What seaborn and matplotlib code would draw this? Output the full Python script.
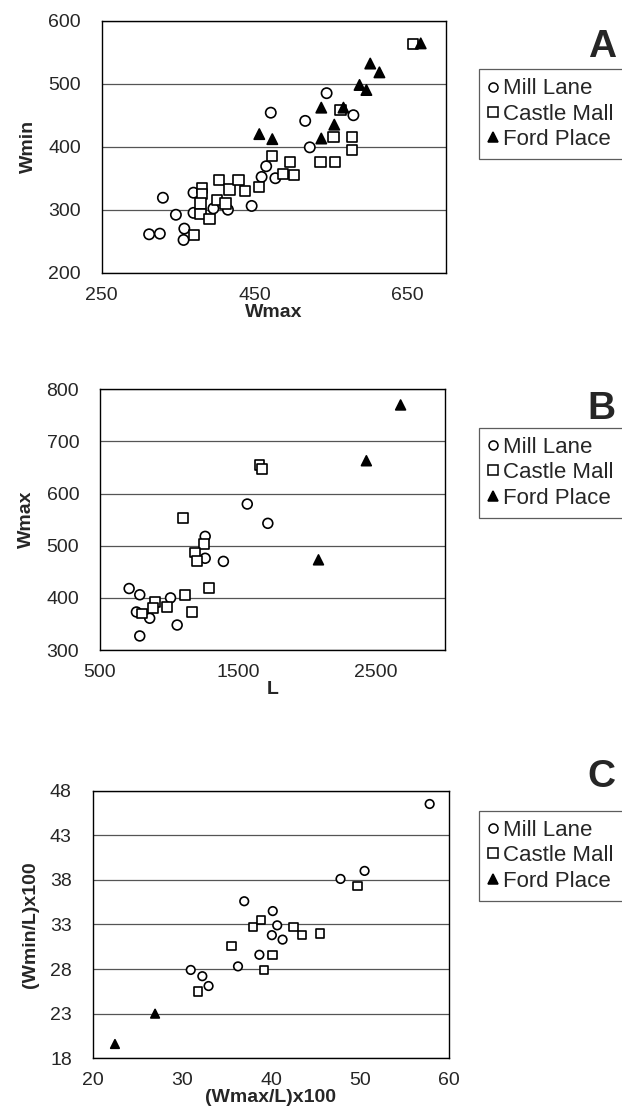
import matplotlib
matplotlib.use("Agg")
import matplotlib.pyplot as plt
from matplotlib.lines import Line2D
import pandas as pd
import seaborn as sns

sites = ["Mill Lane", "Castle Mall", "Ford Place"]

# Panel A: Wmax vs Wmin
a_mill_wmax = [330, 312, 326, 347, 358, 357, 370, 370, 396, 415, 446, 465, 459, 471, 477, 516, 522, 544, 579]
a_mill_wmin = [319, 261, 262, 292, 270, 252, 327, 295, 302, 300, 306, 369, 352, 454, 350, 441, 399, 485, 450]
a_castle_wmax = [381, 381, 379, 379, 391, 371, 403, 401, 412, 417, 429, 437, 456, 473, 496, 487, 501, 536, 555, 553, 577, 577, 562, 657]
a_castle_wmin = [334, 325, 310, 293, 285, 260, 347, 315, 310, 332, 347, 330, 336, 385, 376, 357, 355, 376, 376, 415, 415, 395, 458, 563]
a_ford_wmax = [456, 473, 537, 537, 554, 566, 587, 596, 601, 613, 667]
a_ford_wmin = [420, 412, 462, 413, 435, 462, 498, 490, 532, 518, 564]

# Panel B: L vs Wmax
b_mill_l = [711, 788, 764, 860, 1011, 1059, 1262, 1262, 1394, 1567, 1716, 788]
b_mill_wmax = [418, 406, 373, 361, 400, 348, 518, 476, 470, 580, 543, 327]
b_castle_l = [1099, 1656, 1675, 1255, 1190, 1200, 1116, 1291, 896, 883, 987, 807, 1164]
b_castle_wmax = [553, 655, 647, 504, 487, 470, 405, 419, 392, 381, 383, 370, 373]
b_ford_l = [2083, 2430, 2678]
b_ford_wmax = [473, 663, 770]

# Panel C: (Wmax/L)x100 vs (Wmin/L)x100
c_mill_x = [37.0, 31.0, 32.3, 33.0, 36.3, 38.7, 40.2, 40.7, 40.1, 41.3, 47.8, 50.5, 57.8]
c_mill_y = [35.6, 27.9, 27.2, 26.1, 28.3, 29.6, 34.5, 32.9, 31.8, 31.3, 38.1, 39.0, 46.5]
c_castle_x = [35.6, 38.0, 38.9, 39.2, 31.8, 40.2, 42.5, 43.5, 45.5, 49.7]
c_castle_y = [30.6, 32.7, 33.5, 27.9, 25.5, 29.6, 32.7, 31.8, 32.0, 37.3]
c_ford_x = [22.5, 27.0]
c_ford_y = [19.6, 23.0]


def make_df(groups):
    rows = []
    for site, xs, ys in groups:
        for x, y in zip(xs, ys):
            rows.append({"x": x, "y": y, "site": site})
    return pd.DataFrame(rows)


df_a = make_df([(sites[0], a_mill_wmax, a_mill_wmin),
                (sites[1], a_castle_wmax, a_castle_wmin),
                (sites[2], a_ford_wmax, a_ford_wmin)])
df_b = make_df([(sites[0], b_mill_l, b_mill_wmax),
                (sites[1], b_castle_l, b_castle_wmax),
                (sites[2], b_ford_l, b_ford_wmax)])
df_c = make_df([(sites[0], c_mill_x, c_mill_y),
                (sites[1], c_castle_x, c_castle_y),
                (sites[2], c_ford_x, c_ford_y)])

sns.set_style("white")
plt.rcParams["font.family"] = ["Liberation Sans", "DejaVu Sans"]

markers = {"Mill Lane": "o", "Castle Mall": "s", "Ford Place": "^"}
palette = {"Mill Lane": "white", "Castle Mall": "white", "Ford Place": "black"}

fig = plt.figure(figsize=(6.22, 11.2), dpi=100)

panels = [
    # df, rect, xlim, xticks, ylim, yticks, xlabel, ylabel, letter, letter_y, legend_y, size
    (df_a, [0.1635, 0.7565, 0.5535, 0.2250], (250, 700), [250, 450, 650], (200, 600),
     [200, 300, 400, 500, 600], "Wmax", "Wmin", "A", 0.958, 0.938, 55),
    (df_b, [0.1608, 0.4196, 0.5547, 0.2328], (500, 3000), [500, 1500, 2500], (300, 800),
     [300, 400, 500, 600, 700, 800], "L", "Wmax", "B", 0.635, 0.618, 50),
    (df_c, [0.1490, 0.0551, 0.5733, 0.2390], (20, 60), [20, 30, 40, 50, 60], (18, 48),
     [18, 23, 28, 33, 38, 43, 48], "(Wmax/L)x100", "(Wmin/L)x100", "C", 0.306, 0.276, 38),
]

for df, rect, xlim, xticks, ylim, yticks, xlab, ylab, letter, let_y, leg_y, size in panels:
    ax = fig.add_axes(rect)
    sns.scatterplot(data=df, x="x", y="y", hue="site", style="site",
                    markers=markers, palette=palette, edgecolor="black",
                    linewidth=1.2, s=size, legend=False, ax=ax, zorder=3)
    ax.set_xlim(*xlim)
    ax.set_ylim(*ylim)
    ax.set_xticks(xticks)
    ax.set_yticks(yticks)
    ax.yaxis.grid(True, color="#555555", lw=0.9)
    ax.set_axisbelow(True)
    for sp in ax.spines.values():
        sp.set_color("black")
        sp.set_linewidth(1.0)
    ax.tick_params(axis="both", direction="out", length=6, width=0.9,
                   labelsize=14, color="black")
    ax.tick_params(axis="y", pad=9)
    ax.tick_params(axis="x", pad=4)
    ax.set_xlabel(xlab, fontsize=14, fontweight="bold", labelpad=0)
    ax.set_ylabel(ylab, fontsize=14, fontweight="bold", labelpad=8)

    fig.text(0.99, let_y, letter, fontsize=28, fontweight="bold",
             ha="right", va="center")

    handles = [
        Line2D([], [], marker="o", ls="", mfc="white", mec="black", mew=1.1, ms=6.5),
        Line2D([], [], marker="s", ls="", mfc="white", mec="black", mew=1.1, ms=6.5),
        Line2D([], [], marker="^", ls="", mfc="black", mec="black", mew=1.1, ms=7.5),
    ]
    leg = fig.legend(handles, sites, loc="upper left",
                     bbox_to_anchor=(0.770, leg_y), frameon=True, fancybox=False,
                     fontsize=16, handlelength=0.5, handletextpad=0.2,
                     borderpad=0.4, labelspacing=0.2, borderaxespad=0)
    leg.get_frame().set_edgecolor("#333333")
    leg.get_frame().set_linewidth(0.9)

fig.savefig("out.png", dpi=100)
